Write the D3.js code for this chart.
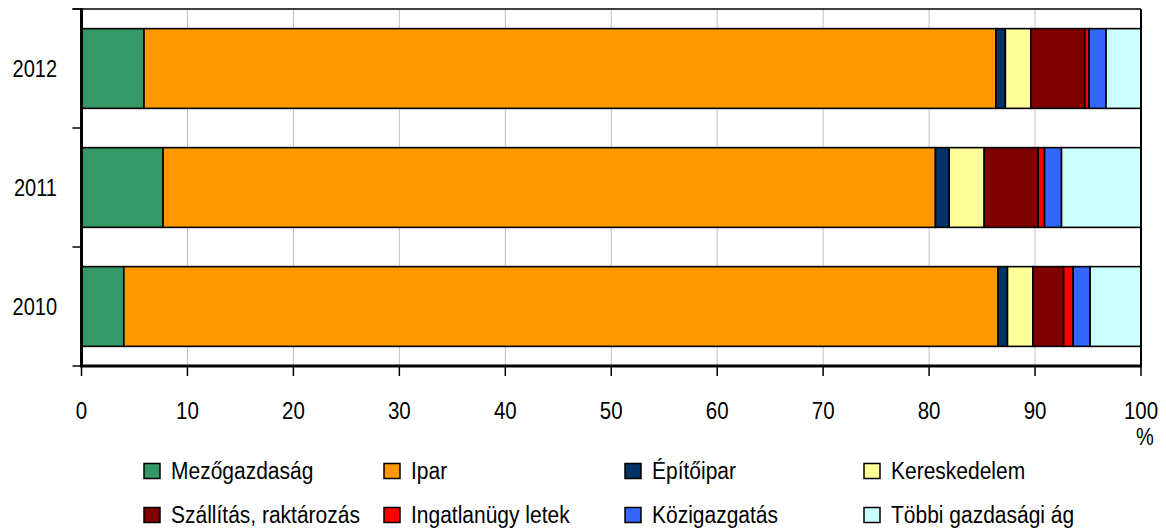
<!DOCTYPE html>
<html>
<head>
<meta charset="utf-8">
<script src="https://cdn.jsdelivr.net/npm/d3@7"></script>
<style>
  html, body { margin: 0; padding: 0; background: #fff; }
  svg { display: block; font-family: "Liberation Sans", Arial, sans-serif; }
</style>
</head>
<body>
<svg id="chart" width="1166" height="529"></svg>
<script>
// ---- Data ----
const years = ["2012", "2011", "2010"];
const sectors = ["Mezőgazdaság", "Ipar", "Építőipar", "Kereskedelem",
                 "Szállítás, raktározás", "Ingatlanügy letek", "Közigazgatás", "Többi gazdasági ág"];
const colors = ["#339966", "#FF9900", "#003366", "#FFFF99",
                "#800000", "#FF0000", "#3366FF", "#CCFFFF"];
const values2012 = [5.9, 80.4, 0.9, 2.4, 5.1, 0.4, 1.6, 3.3];
const values2011 = [7.7, 72.9, 1.3, 3.3, 5.1, 0.6, 1.6, 7.5];
const values2010 = [4.0, 82.5, 0.9, 2.4, 2.9, 0.9, 1.6, 4.8];
const xTicks = [0, 10, 20, 30, 40, 50, 60, 70, 80, 90, 100];

const valuesByYear = { "2012": values2012, "2011": values2011, "2010": values2010 };
const SY = 1.15; // vertical text stretch as in the reference

const svg = d3.select("#chart");
const x = d3.scaleLinear().domain([0, 100]).range([81.5, 1141]);
const y = d3.scaleBand().domain(years).range([9, 366]).paddingInner(0.33).paddingOuter(0.165);

// gridlines
svg.append("g").selectAll("line").data(xTicks.filter(d => d > 0 && d < 100)).join("line")
  .attr("x1", d => x(d)).attr("x2", d => x(d))
  .attr("y1", 9).attr("y2", 366)
  .attr("stroke", "#c0c0c0").attr("stroke-width", 1);

// stacked bars
const stackData = years.map(yr => {
  const o = { year: yr };
  sectors.forEach((s, i) => o[s] = valuesByYear[yr][i]);
  return o;
});
const series = d3.stack().keys(sectors)(stackData);
svg.append("g").selectAll("g").data(series).join("g")
  .attr("fill", (d, i) => colors[i])
  .selectAll("rect").data(d => d).join("rect")
  .attr("x", d => x(d[0]))
  .attr("width", d => x(d[1]) - x(d[0]))
  .attr("y", d => y(d.data.year))
  .attr("height", y.bandwidth())
  .attr("stroke", "#000").attr("stroke-width", 1.6);

// plot frame: top and right
const [r0, r1] = y.range();
svg.append("line").attr("x1", x(0) - 9).attr("x2", x(100)).attr("y1", r0).attr("y2", r0)
  .attr("stroke", "#000").attr("stroke-width", 1.5);
svg.append("line").attr("x1", x(100)).attr("x2", x(100)).attr("y1", r0).attr("y2", r1)
  .attr("stroke", "#000").attr("stroke-width", 2);

// y axis
const step = (r1 - r0) / years.length;
const yBounds = d3.range(years.length + 1).map(i => r0 + i * step);
svg.append("g").selectAll("line").data(yBounds).join("line")
  .attr("x1", x(0) - 9).attr("x2", x(0)).attr("y1", d => d).attr("y2", d => d)
  .attr("stroke", "#000").attr("stroke-width", 1.5);
svg.append("line").attr("x1", x(0)).attr("x2", x(0)).attr("y1", r0 - 1).attr("y2", r1 + 1)
  .attr("stroke", "#000").attr("stroke-width", 3);

svg.append("g").selectAll("text").data(years).join("text")
  .attr("transform", d => `translate(57,${y(d) + y.bandwidth() / 2}) scale(1,${SY})`)
  .attr("text-anchor", "end").attr("dominant-baseline", "central")
  .attr("font-size", 20).attr("fill", "#000").text(d => d);

// x axis
svg.append("line").attr("x1", x(0) - 1.5).attr("x2", x(100) + 1).attr("y1", r1).attr("y2", r1)
  .attr("stroke", "#000").attr("stroke-width", 3);
svg.append("g").selectAll("line").data(xTicks).join("line")
  .attr("x1", d => x(d)).attr("x2", d => x(d)).attr("y1", r1).attr("y2", r1 + 10)
  .attr("stroke", "#000").attr("stroke-width", 1.5);
svg.append("g").selectAll("text").data(xTicks).join("text")
  .attr("transform", d => `translate(${x(d)},411) scale(1,${SY})`)
  .attr("text-anchor", "middle").attr("dominant-baseline", "central")
  .attr("font-size", 20.5).attr("fill", "#000").text(d => d);
svg.append("text").attr("transform", `translate(1145,437) scale(1,${SY})`)
  .attr("text-anchor", "middle").attr("dominant-baseline", "central")
  .attr("font-size", 20).attr("fill", "#000").text("%");

// legend
const colX = [144, 384, 625, 864];
const rowY = [471, 515];
const leg = svg.append("g").selectAll("g").data(sectors).join("g")
  .attr("transform", (d, i) => `translate(${colX[i % 4]},${rowY[Math.floor(i / 4)]})`);
leg.append("rect").attr("x", 0).attr("y", -7.5).attr("width", 16).attr("height", 15)
  .attr("fill", (d, i) => colors[i]).attr("stroke", "#000").attr("stroke-width", 1.5);
leg.append("text").attr("transform", `translate(27,0) scale(1,${SY})`).attr("dominant-baseline", "central")
  .attr("font-size", 21).attr("fill", "#000").text(d => d);
</script>
</body>
</html>
